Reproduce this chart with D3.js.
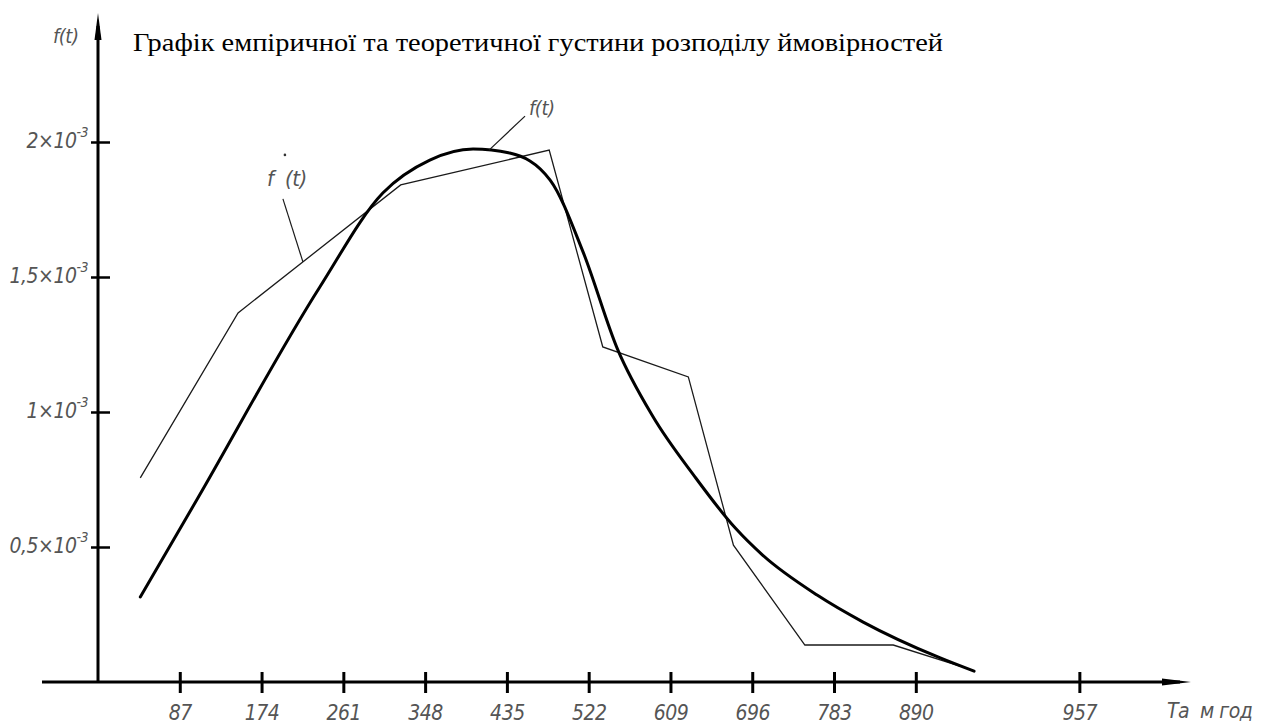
<!doctype html>
<html>
  <head>
    <meta charset="utf-8">
    <script src="https://cdnjs.cloudflare.com/ajax/libs/d3/7.8.5/d3.min.js"></script>
    <style>
      body { margin: 0; background: #fff; }
      .lbl {
        font-family: "Liberation Sans Narrow", "DejaVu Sans Condensed", "Liberation Sans", sans-serif;
        font-style: italic;
        fill: #555;
        letter-spacing: -0.5px;
      }
      .title {
        font-family: "Liberation Serif", "DejaVu Serif", serif;
        fill: #000;
      }
    </style>
  </head>
  <body>
    <svg id="chart" width="1267" height="725"></svg>
    <script>
      // tick values where the marks sit, and the text printed under them
      var xTickValues = [87, 174, 261, 348, 435, 522, 609, 696, 783, 870, 1044];
      var xTickLabels = ["87", "174", "261", "348", "435", "522", "609", "696", "783", "890", "957"];
      var yTickValues = [0.5e-3, 1e-3, 1.5e-3, 2e-3];
      var yTickLabels = ["0,5×10", "1×10", "1,5×10", "2×10"];
      var yTickExp = "-3";

      // empirical density f*(t): polygon vertices (hours, density)
      var empT = [45, 149, 322, 480, 537, 628, 676, 752, 846, 917];
      var empF = [0.756e-3, 1.367e-3, 1.841e-3, 1.970e-3, 1.241e-3, 1.130e-3, 0.507e-3, 0.137e-3, 0.137e-3, 0.059e-3];

      // theoretical density f(t)
      var theoT = [45, 105, 236, 303, 353, 399, 438, 481, 516, 553, 590, 635, 678, 707, 765, 814, 896, 932];
      var theoF = [0.315e-3, 0.674e-3, 1.463e-3, 1.811e-3, 1.933e-3, 1.974e-3, 1.959e-3, 1.859e-3, 1.593e-3,
                   1.230e-3, 0.985e-3, 0.760e-3, 0.570e-3, 0.470e-3, 0.322e-3, 0.222e-3, 0.089e-3, 0.040e-3];

      var svg = d3.select("#chart");

      var x = d3.scaleLinear().domain([0, 1000]).range([98, 1038]);
      var y = d3.scaleLinear().domain([0, 2.5e-3]).range([682, 7]);

      // title
      svg.append("text")
        .attr("class", "title")
        .attr("x", 133)
        .attr("y", 51)
        .attr("font-size", 26)
        .attr("textLength", 810)
        .attr("lengthAdjust", "spacingAndGlyphs")
        .text("Графік емпіричної та теоретичної густини розподілу ймовірностей");

      // x axis
      var xAxis = svg.append("g")
        .attr("transform", "translate(0," + y(0) + ")")
        .call(d3.axisBottom(x)
          .tickValues(xTickValues)
          .tickFormat((d, i) => xTickLabels[i])
          .tickSize(11));
      xAxis.select(".domain").remove();
      xAxis.selectAll(".tick line")
        .attr("y1", -10).attr("y2", 11)
        .attr("stroke", "#000").attr("stroke-width", 3);
      xAxis.selectAll(".tick text")
        .attr("class", "lbl")
        .attr("y", 38).attr("dy", null)
        .attr("font-size", 21);

      svg.append("line")
        .attr("x1", 42).attr("x2", 1180)
        .attr("y1", y(0)).attr("y2", y(0))
        .attr("stroke", "#000").attr("stroke-width", 3);
      svg.append("path")
        .attr("d", "M1191," + y(0) + "L1162," + (y(0) - 3.5) + "L1162," + (y(0) + 3.5) + "Z")
        .attr("fill", "#000");
      svg.append("text")
        .attr("class", "lbl")
        .attr("x", 1167).attr("y", 718)
        .attr("font-size", 21)
        .style("white-space", "pre")
        .text("Та  м год");

      // y axis
      var yAxis = svg.append("g")
        .attr("transform", "translate(" + x(0) + ",0)")
        .call(d3.axisLeft(y).tickValues(yTickValues).tickFormat("").tickSize(7));
      yAxis.select(".domain").remove();
      yAxis.selectAll(".tick line")
        .attr("x1", 12).attr("x2", -7)
        .attr("stroke", "#000").attr("stroke-width", 2.5);
      yAxis.selectAll(".tick text").remove();
      var yl = yAxis.selectAll(".tick").append("text")
        .attr("class", "lbl")
        .attr("text-anchor", "end")
        .attr("x", -10).attr("y", 5)
        .attr("font-size", 21);
      yl.append("tspan").text((d, i) => yTickLabels[i]);
      yl.append("tspan").attr("font-size", 14).attr("dy", -11).text(yTickExp);

      svg.append("line")
        .attr("x1", x(0)).attr("x2", x(0))
        .attr("y1", y(0) + 1).attr("y2", 26)
        .attr("stroke", "#000").attr("stroke-width", 3);
      svg.append("path")
        .attr("d", "M" + x(0) + ",13L" + (x(0) - 3.5) + ",40L" + (x(0) + 3.5) + ",40Z")
        .attr("fill", "#000");
      svg.append("text")
        .attr("class", "lbl")
        .attr("x", 53).attr("y", 43)
        .attr("font-size", 20)
        .text("f(t)");

      // curves
      var emp = empT.map((t, i) => [t, empF[i]]);
      var theo = theoT.map((t, i) => [t, theoF[i]]);

      svg.append("path")
        .datum(emp)
        .attr("fill", "none")
        .attr("stroke", "#1a1a1a")
        .attr("stroke-width", 1.3)
        .attr("d", d3.line().x(d => x(d[0])).y(d => y(d[1])));

      svg.append("path")
        .datum(theo)
        .attr("fill", "none")
        .attr("stroke", "#000")
        .attr("stroke-width", 3)
        .attr("stroke-linecap", "round")
        .attr("d", d3.line().curve(d3.curveMonotoneX).x(d => x(d[0])).y(d => y(d[1])));

      // labels with leader lines
      var tPeak = [416, 1.97e-3];
      var px = x(tPeak[0]), py = y(tPeak[1]);
      svg.append("line")
        .attr("x1", px).attr("y1", py)
        .attr("x2", px + 36).attr("y2", py - 34)
        .attr("stroke", "#1a1a1a").attr("stroke-width", 1.2);
      svg.append("text")
        .attr("class", "lbl")
        .attr("x", px + 40).attr("y", py - 35)
        .attr("font-size", 20)
        .text("f(t)");

      var tEmp = [218, 1.556e-3];
      var ex = x(tEmp[0]), ey = y(tEmp[1]);
      svg.append("line")
        .attr("x1", ex).attr("y1", ey)
        .attr("x2", ex - 20).attr("y2", ey - 63)
        .attr("stroke", "#1a1a1a").attr("stroke-width", 1.2);
      svg.append("text")
        .attr("class", "lbl")
        .attr("x", ex - 36).attr("y", ey - 76)
        .attr("font-size", 22)
        .style("white-space", "pre")
        .text("f  (t)");
      svg.append("circle")
        .attr("cx", ex - 18).attr("cy", ey - 107)
        .attr("r", 1.3)
        .attr("fill", "#333");
    </script>
  </body>
</html>
